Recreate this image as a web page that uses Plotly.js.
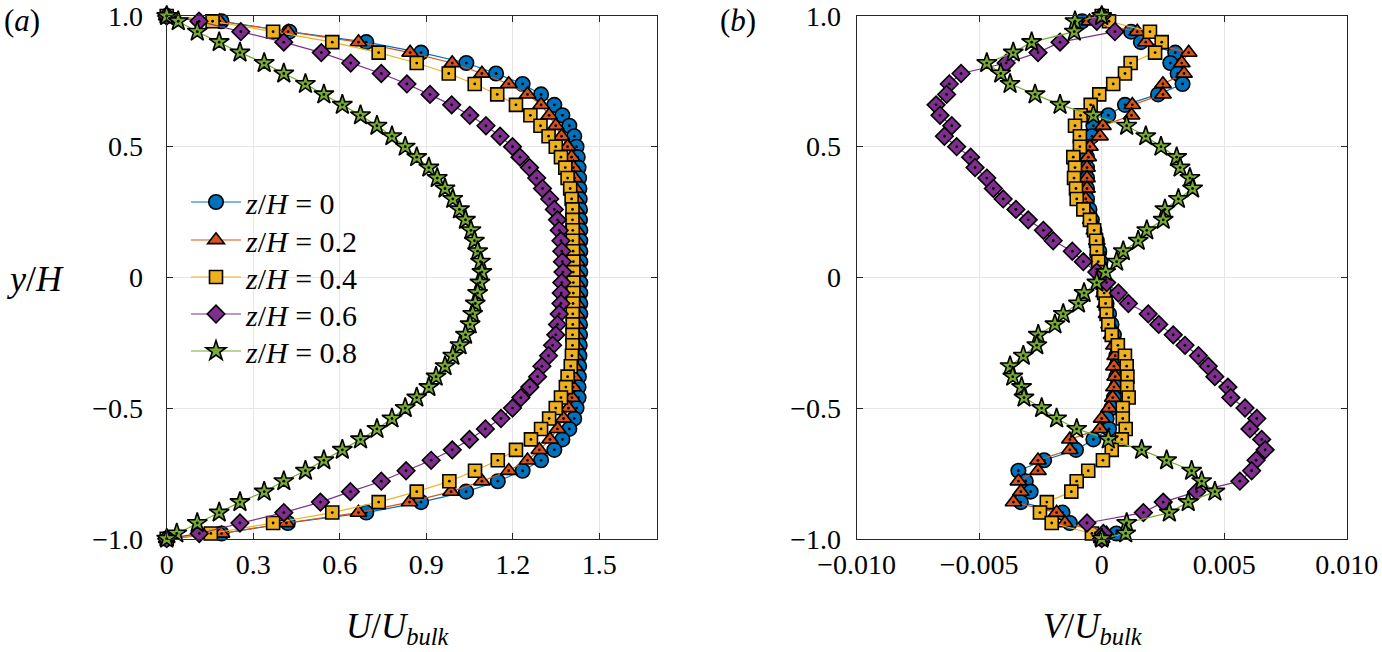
<!DOCTYPE html>
<html>
<head>
<meta charset="utf-8">
<script src="https://cdn.plot.ly/plotly-3.0.1.min.js"></script>
<style>html,body{margin:0;padding:0;background:#fff;}#chart{width:1382px;height:652px;}</style>
</head>
<body>
<div id="chart"></div>
<script>
// Wall-normal positions y/H
const yH = [1.0, 0.98, 0.94, 0.90, 0.86, 0.82, 0.78, 0.74, 0.70, 0.66, 0.62, 0.58, 0.54, 0.50, 0.46, 0.42, 0.38, 0.34, 0.30, 0.26, 0.22, 0.18, 0.14, 0.10, 0.06, 0.02,
  -0.02, -0.06, -0.10, -0.14, -0.18, -0.22, -0.26, -0.30, -0.34, -0.38, -0.42, -0.46, -0.50, -0.54, -0.58, -0.62, -0.66, -0.70, -0.74, -0.78, -0.82, -0.86, -0.90, -0.94, -0.98, -1.0];

const seriesNames = ['<i>z</i>/<i>H</i>&nbsp;=&nbsp;0', '<i>z</i>/<i>H</i>&nbsp;=&nbsp;0.2', '<i>z</i>/<i>H</i>&nbsp;=&nbsp;0.4', '<i>z</i>/<i>H</i>&nbsp;=&nbsp;0.6', '<i>z</i>/<i>H</i>&nbsp;=&nbsp;0.8'];

// Panel (a): U/U_bulk
const U_z00 = [0, 0.19, 0.425, 0.692, 0.882, 1.039, 1.142, 1.234, 1.298, 1.344, 1.372, 1.396, 1.413, 1.421, 1.425, 1.428, 1.430, 1.431, 1.432, 1.433, 1.433, 1.434, 1.434, 1.434, 1.434, 1.434,
  1.434, 1.434, 1.434, 1.434, 1.433, 1.433, 1.432, 1.431, 1.430, 1.429, 1.428, 1.428, 1.421, 1.413, 1.396, 1.372, 1.344, 1.298, 1.234, 1.148, 1.038, 0.882, 0.692, 0.42, 0.19, 0];
const U_z02 = [0, 0.184, 0.421, 0.665, 0.844, 0.990, 1.093, 1.186, 1.251, 1.298, 1.326, 1.349, 1.369, 1.390, 1.404, 1.410, 1.414, 1.417, 1.419, 1.420, 1.421, 1.422, 1.422, 1.422, 1.422, 1.422,
  1.422, 1.422, 1.422, 1.422, 1.421, 1.420, 1.419, 1.417, 1.415, 1.412, 1.409, 1.405, 1.393, 1.376, 1.355, 1.329, 1.292, 1.251, 1.186, 1.093, 0.986, 0.842, 0.665, 0.415, 0.190, 0];
const U_z04 = [0, 0.159, 0.369, 0.574, 0.735, 0.867, 0.978, 1.068, 1.146, 1.211, 1.261, 1.296, 1.324, 1.349, 1.367, 1.382, 1.390, 1.399, 1.404, 1.407, 1.407, 1.408, 1.408, 1.409, 1.410, 1.410,
  1.410, 1.410, 1.409, 1.408, 1.408, 1.407, 1.407, 1.405, 1.401, 1.390, 1.384, 1.367, 1.349, 1.326, 1.298, 1.263, 1.211, 1.148, 1.069, 0.980, 0.867, 0.735, 0.574, 0.369, 0.153, 0];
const U_z06 = [0, 0.112, 0.257, 0.406, 0.536, 0.638, 0.744, 0.833, 0.913, 0.988, 1.051, 1.107, 1.156, 1.199, 1.225, 1.258, 1.283, 1.303, 1.328, 1.344, 1.355, 1.361, 1.367, 1.370, 1.372, 1.374,
  1.370, 1.368, 1.367, 1.361, 1.355, 1.349, 1.338, 1.324, 1.301, 1.286, 1.259, 1.228, 1.199, 1.159, 1.105, 1.050, 0.990, 0.917, 0.830, 0.744, 0.637, 0.533, 0.406, 0.254, 0.113, 0];
const U_z08 = [0, 0.040, 0.106, 0.182, 0.254, 0.338, 0.406, 0.481, 0.545, 0.609, 0.672, 0.729, 0.781, 0.827, 0.867, 0.909, 0.938, 0.965, 0.992, 1.015, 1.036, 1.055, 1.067, 1.078, 1.088, 1.093,
  1.086, 1.078, 1.070, 1.061, 1.052, 1.036, 1.017, 0.992, 0.965, 0.934, 0.909, 0.867, 0.827, 0.781, 0.729, 0.672, 0.609, 0.545, 0.481, 0.406, 0.338, 0.254, 0.182, 0.106, 0.035, 0];

// Panel (b): V/U_bulk
const V_z00 = [0, -0.0008, 0.0012, 0.0016, 0.0030, 0.0028, 0.0031, 0.0033, 0.0023, 0.00095, 0.00027, -0.00034, -0.0004, -0.0006, -0.0006, -0.0006, -0.0006, -0.0006, -0.0006, -0.0005, -0.0004, -0.0003, -0.0002, -0.0001, -0.00005, 0,
  0.00002, 0.0001, 0.0002, 0.0003, 0.0004, 0.0005, 0.0006, 0.0006, 0.0006, 0.0006, 0.0006, 0.0005, 0.0004, 0.0002, 0.0003, -0.00034, -0.00105, -0.00235, -0.0034, -0.0031, -0.0029, -0.0033, -0.0016, -0.0013, 0.0006, 0];
const V_z02 = [0, -0.0005, 0.00145, 0.0018, 0.00355, 0.00327, 0.00336, 0.0025, 0.0025, 0.00125, 0.00122, 0.00005, -0.00007, -0.00048, -0.00055, -0.0006, -0.0006, -0.0006, -0.00065, -0.0006, -0.00045, -0.0003, -0.0002, -0.00015, -0.0001, -0.00003,
  0.00003, 0.0001, 0.00015, 0.0002, 0.0003, 0.0004, 0.0005, 0.00055, 0.0005, 0.00055, 0.0005, 0.00045, 0.0003, 0.0, -0.00007, -0.0013, -0.0013, -0.0026, -0.0026, -0.0034, -0.0033, -0.0036, -0.00184, -0.0015, 0.0002, 0];
const V_z04 = [0, 0.0003, 0.00197, 0.00245, 0.00218, 0.00118, 0.00095, 0.00047, -0.0001, -0.00045, -0.00086, -0.00109, -0.00089, -0.00089, -0.00116, -0.00109, -0.00113, -0.00105, -0.00102, -0.00075, -0.00048, -0.00031, -0.00023, -0.0002, -0.00014, -0.00004,
  0.00004, 0.0001, 0.00016, 0.0002, 0.00027, 0.00041, 0.00066, 0.00095, 0.00102, 0.00105, 0.00104, 0.0011, 0.00086, 0.00086, 0.00098, 0.00082, 0.00041, 0.00005, -0.00055, -0.00102, -0.00124, -0.00224, -0.00252, -0.00204, -0.0004, 0];
const V_z06 = [0, -0.0002, 0.00054, -0.0017, -0.0026, -0.0039, -0.00574, -0.00622, -0.00633, -0.00676, -0.0066, -0.00612, -0.00642, -0.00592, -0.00535, -0.00517, -0.00469, -0.00442, -0.00402, -0.0035, -0.003, -0.00238, -0.00198, -0.0012, -0.00075, -0.0002,
  0.0002, 0.00068, 0.00109, 0.0019, 0.00233, 0.00292, 0.0034, 0.00395, 0.00435, 0.00462, 0.00515, 0.00527, 0.00585, 0.00633, 0.00605, 0.00653, 0.00667, 0.0063, 0.00612, 0.00564, 0.00388, 0.00251, 0.0017, -0.0006, 0.00007, 0];
const V_z08 = [0, -0.00109, -0.00112, -0.00286, -0.00361, -0.00469, -0.00412, -0.00374, -0.00272, -0.0017, -0.00034, 0.00102, 0.0018, 0.00242, 0.00306, 0.0032, 0.0036, 0.00371, 0.00313, 0.00258, 0.00251, 0.00184, 0.00149, 0.00088, 0.00061, 0.00016,
  -0.0002, -0.00072, -0.00095, -0.00157, -0.00191, -0.00259, -0.00265, -0.0032, -0.00374, -0.00363, -0.00327, -0.00317, -0.00245, -0.00184, -0.00102, 0.00027, 0.00163, 0.00265, 0.00367, 0.00408, 0.00462, 0.00353, 0.00276, 0.00102, 0.00098, 0];

// Axis ticks
const yTickVals = [-1, -0.5, 0, 0.5, 1];
const yTickText = ['\u22121.0', '\u22120.5', '0', '0.5', '1.0'];
const uTickVals = [0, 0.3, 0.6, 0.9, 1.2, 1.5];
const uTickText = ['0', '0.3', '0.6', '0.9', '1.2', '1.5'];
const vTickVals = [-0.010, -0.005, 0, 0.005, 0.010];
const vTickText = ['\u22120.010', '\u22120.005', '0', '0.005', '0.010'];

const colors = ['#0072BD', '#D95319', '#EDB120', '#7E2F8E', '#77AC30'];
const symbols = ['circle', 'triangle-up', 'square', 'diamond', 'star'];
const sizes = [14.5, 14.5, 13, 13.5, 15];

const U_all = [U_z00, U_z02, U_z04, U_z06, U_z08];
const V_all = [V_z00, V_z02, V_z04, V_z06, V_z08];

const SERIF = "'Liberation Serif', 'DejaVu Serif', serif";
const legendIds = ['legend', 'legend2', 'legend3', 'legend4', 'legend5'];
const traces = [];
for (let k = 0; k < 5; k++) {
  [[U_all[k], 'x', 'y', true], [V_all[k], 'x2', 'y2', false]].forEach(([xs, xa, ya, leg]) => {
    traces.push({
      type: 'scatter', mode: 'lines+markers', x: xs, y: yH, xaxis: xa, yaxis: ya,
      name: seriesNames[k], showlegend: leg, legend: legendIds[k],
      cliponaxis: false,
      line: {color: colors[k], width: 1.2},
      marker: {symbol: symbols[k], size: sizes[k], color: colors[k], line: {color: '#000', width: 1.6}}
    });
    traces.push({
      type: 'scatter', mode: 'markers', x: xs, y: yH, xaxis: xa, yaxis: ya,
      showlegend: false, hoverinfo: 'skip', cliponaxis: false,
      marker: {symbol: 'circle', size: 2.8, color: '#000'}
    });
  });
}

const W = 1382, H = 652;
const axA = [166.7 / W, 657 / W];
const axB = [856.7 / W, 1346.7 / W];
const yDom = [1 - 538.7 / H, 1 - 16 / H];

const common = {
  showline: true, linecolor: '#262626', linewidth: 1, mirror: 'ticks',
  ticks: 'inside', ticklen: 6, tickcolor: '#262626', tickwidth: 1,
  showgrid: true, gridcolor: '#e6e6e6', gridwidth: 1, zeroline: false,
  tickfont: {family: SERIF, size: 28, color: '#000'}
};

const legendRows = [202, 240, 277, 314, 351];
const legendStyle = (row) => ({
  x: 186 / W, y: 1 - row / H, xanchor: 'left', yanchor: 'middle',
  bgcolor: 'rgba(0,0,0,0)', borderwidth: 0, itemwidth: 50,
  font: {family: SERIF, size: 30, color: '#000'}
});

const layout = {
  width: W, height: H,
  margin: {l: 0, r: 0, t: 0, b: 0, pad: 0},
  paper_bgcolor: '#fff', plot_bgcolor: '#fff',
  font: {family: SERIF, color: '#000'},
  showlegend: true,
  legend: legendStyle(legendRows[0]),
  legend2: legendStyle(legendRows[1]),
  legend3: legendStyle(legendRows[2]),
  legend4: legendStyle(legendRows[3]),
  legend5: legendStyle(legendRows[4]),
  xaxis: Object.assign({}, common, {domain: axA, range: [0, 1.7], tickvals: uTickVals, ticktext: uTickText, anchor: 'y', ticklabelstandoff: 1}),
  yaxis: Object.assign({}, common, {domain: yDom, range: [-1, 1], tickvals: yTickVals, ticktext: yTickText, anchor: 'x', ticklabelstandoff: 17}),
  xaxis2: Object.assign({}, common, {domain: axB, range: [-0.01, 0.01], tickvals: vTickVals, ticktext: vTickText, anchor: 'y2', ticklabelstandoff: 1}),
  yaxis2: Object.assign({}, common, {domain: yDom, range: [-1, 1], tickvals: yTickVals, ticktext: yTickText, anchor: 'x2', ticklabelstandoff: 9}),
  annotations: [
    {text: '(<i>a</i>)', xref: 'paper', yref: 'paper', x: 22 / W, y: 1 - 20 / H, showarrow: false, xanchor: 'center', yanchor: 'middle', font: {family: SERIF, size: 31, color: '#000'}},
    {text: '(<i>b</i>)', xref: 'paper', yref: 'paper', x: 738 / W, y: 1 - 20 / H, showarrow: false, xanchor: 'center', yanchor: 'middle', font: {family: SERIF, size: 31, color: '#000'}},
    {text: '<i>y</i>/<i>H</i>', xref: 'paper', yref: 'paper', x: 35 / W, y: 1 - 279 / H, showarrow: false, xanchor: 'center', yanchor: 'middle', font: {family: SERIF, size: 36, color: '#000'}},
    {text: '<i>U</i>/<i>U</i><sub><i>bulk</i></sub>', xref: 'paper', yref: 'paper', x: 398 / W, y: 1 - 628 / H, showarrow: false, xanchor: 'center', yanchor: 'middle', font: {family: SERIF, size: 35, color: '#000'}},
    {text: '<i>V</i>/<i>U</i><sub><i>bulk</i></sub>', xref: 'paper', yref: 'paper', x: 1093 / W, y: 1 - 628 / H, showarrow: false, xanchor: 'center', yanchor: 'middle', font: {family: SERIF, size: 35, color: '#000'}}
  ]
};

Plotly.newPlot('chart', traces, layout, {displayModeBar: false, staticPlot: true});
</script>
</body>
</html>
